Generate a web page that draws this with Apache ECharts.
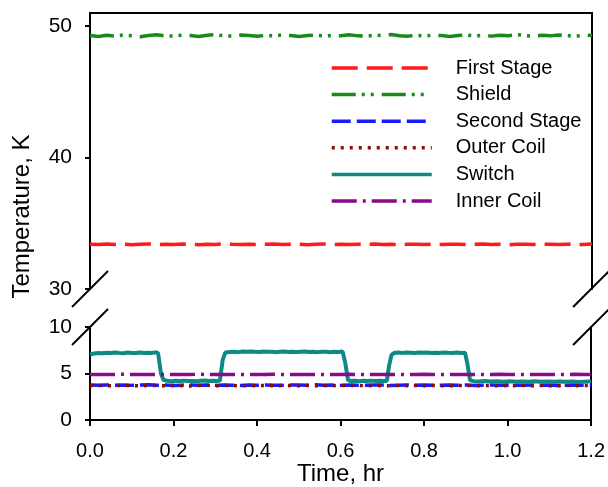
<!DOCTYPE html>
<html>
<head>
<meta charset="utf-8">
<script src="https://cdn.jsdelivr.net/npm/echarts@6/dist/echarts.min.js"></script>
<style>
  html, body { margin: 0; padding: 0; background: #fff; }
  #chart { width: 608px; height: 487px; }
</style>
</head>
<body>
<div id="chart"></div>
<script>
// Sample times (hr) shared by the steady channels
const time = [0.00,0.02,0.04,0.06,0.08,0.10,0.12,0.14,0.16,0.18,
              0.20,0.22,0.24,0.26,0.28,0.30,0.32,0.34,0.36,0.38,
              0.40,0.42,0.44,0.46,0.48,0.50,0.52,0.54,0.56,0.58,
              0.60,0.62,0.64,0.66,0.68,0.70,0.72,0.74,0.76,0.78,
              0.80,0.82,0.84,0.86,0.88,0.90,0.92,0.94,0.96,0.98,
              1.00,1.02,1.04,1.06,1.08,1.10,1.12,1.14,1.16,1.18,1.20];

// Temperatures, K
const firstStage = [33.40,33.38,33.42,33.39,33.41,33.37,33.40,33.43,33.39,33.40,
                    33.38,33.42,33.40,33.37,33.41,33.39,33.43,33.40,33.38,33.41,
                    33.39,33.40,33.42,33.38,33.40,33.41,33.37,33.40,33.42,33.39,
                    33.40,33.38,33.41,33.40,33.43,33.39,33.40,33.37,33.41,33.40,
                    33.38,33.42,33.39,33.40,33.41,33.38,33.40,33.42,33.39,33.40,
                    33.37,33.41,33.40,33.39,33.42,33.40,33.38,33.41,33.40,33.39,33.42];

const shield = [49.28,49.22,49.30,49.25,49.33,49.27,49.20,49.29,49.34,49.26,
                49.24,49.31,49.28,49.22,49.30,49.35,49.27,49.25,49.32,49.29,
                49.23,49.30,49.26,49.33,49.28,49.21,49.29,49.31,49.25,49.30,
                49.27,49.34,49.26,49.23,49.31,49.28,49.36,49.27,49.24,49.30,
                49.25,49.32,49.28,49.22,49.29,49.33,49.26,49.30,49.24,49.31,
                49.27,49.35,49.29,49.23,49.30,49.26,49.33,49.28,49.24,49.31,49.29];

const secondStage = [3.76,3.74,3.78,3.75,3.77,3.73,3.76,3.79,3.74,3.76,
                     3.72,3.75,3.78,3.74,3.76,3.73,3.77,3.75,3.71,3.76,
                     3.74,3.78,3.75,3.73,3.77,3.76,3.74,3.79,3.75,3.76,
                     3.73,3.77,3.75,3.74,3.78,3.76,3.72,3.75,3.77,3.74,
                     3.76,3.73,3.75,3.78,3.74,3.76,3.72,3.75,3.77,3.74,
                     3.76,3.73,3.75,3.77,3.74,3.76,3.72,3.75,3.77,3.74,3.75];

const outerCoil = [3.70,3.72,3.69,3.71,3.73,3.70,3.68,3.72,3.71,3.69,
                   3.72,3.70,3.67,3.71,3.73,3.69,3.70,3.72,3.68,3.71,
                   3.70,3.73,3.69,3.71,3.70,3.68,3.72,3.70,3.71,3.69,
                   3.72,3.70,3.73,3.69,3.71,3.70,3.68,3.72,3.70,3.71,
                   3.69,3.72,3.70,3.68,3.71,3.73,3.69,3.70,3.72,3.68,
                   3.71,3.70,3.72,3.69,3.71,3.70,3.68,3.72,3.70,3.71,3.70];

const innerCoil = [4.90,4.91,4.89,4.90,4.92,4.90,4.89,4.91,4.90,4.90,
                   4.91,4.89,4.90,4.92,4.90,4.89,4.91,4.90,4.90,4.91,
                   4.89,4.90,4.92,4.90,4.89,4.91,4.90,4.90,4.91,4.89,
                   4.90,4.92,4.90,4.89,4.91,4.90,4.90,4.91,4.89,4.90,
                   4.92,4.90,4.89,4.91,4.90,4.90,4.91,4.89,4.90,4.92,
                   4.90,4.89,4.91,4.90,4.90,4.91,4.89,4.90,4.92,4.90,4.90];

// Heat switch cycles on and off, so it has its own time base
const switchTime = [0.000,0.010,0.020,0.030,0.040,0.050,0.060,0.070,0.080,0.090,
                    0.100,0.110,0.120,0.130,0.140,0.150,0.158,0.163,0.170,0.176,
                    0.185,0.195,0.205,0.215,0.225,0.235,0.245,0.255,0.265,0.275,
                    0.285,0.295,0.305,0.311,0.318,0.324,
                    0.335,0.345,0.355,0.365,0.375,0.385,0.395,0.405,0.415,0.425,
                    0.435,0.445,0.455,0.465,0.475,0.485,0.495,0.505,0.515,0.525,
                    0.535,0.545,0.555,0.565,0.575,0.585,0.595,0.605,0.611,0.618,
                    0.625,0.635,0.645,0.655,0.665,0.675,0.685,0.695,0.705,0.711,
                    0.716,0.722,0.728,
                    0.738,0.748,0.758,0.768,0.778,0.788,0.798,0.808,0.818,0.828,
                    0.838,0.848,0.858,0.868,0.878,0.888,0.898,0.904,0.910,
                    0.918,0.930,0.945,0.960,0.975,0.990,1.005,1.020,1.035,1.050,
                    1.065,1.080,1.095,1.110,1.125,1.140,1.155,1.170,1.185,1.200];
const switchTemp = [7.05,7.15,7.20,7.18,7.24,7.20,7.26,7.22,7.19,7.25,
                    7.22,7.20,7.26,7.21,7.24,7.22,7.28,7.20,5.00,4.30,
                    4.22,4.18,4.22,4.20,4.24,4.19,4.21,4.17,4.22,4.25,
                    4.20,4.23,4.19,4.24,6.50,7.25,
                    7.32,7.35,7.30,7.36,7.33,7.38,7.34,7.31,7.36,7.33,
                    7.35,7.30,7.34,7.37,7.32,7.35,7.31,7.34,7.36,7.32,
                    7.34,7.30,7.35,7.33,7.28,7.34,7.31,7.36,6.20,4.30,
                    4.20,4.23,4.18,4.22,4.20,4.24,4.19,4.22,4.20,4.23,
                    5.80,7.00,7.20,
                    7.25,7.22,7.27,7.24,7.21,7.26,7.23,7.25,7.20,7.24,
                    7.22,7.26,7.23,7.21,7.25,7.22,7.24,6.00,4.30,
                    4.18,4.15,4.19,4.14,4.17,4.13,4.16,4.12,4.15,4.13,
                    4.17,4.12,4.14,4.11,4.15,4.12,4.14,4.10,4.13,4.16];

// Axis ticks
const upperTicks = [30, 40, 50];
const lowerTicks = [0, 5, 10];

const FONT = 'Liberation Sans, Arial, Helvetica, sans-serif';
const BLACK = '#000';

const pairs = (xs, ys) => xs.map((x, i) => [x, ys[i]]);

const chart = echarts.init(document.getElementById('chart'), null, { renderer: 'canvas' });

const frameLine = { show: true, onZero: false, lineStyle: { color: BLACK, width: 2 } };
const noAxisBits = { axisTick: { show: false }, axisLabel: { show: false }, splitLine: { show: false } };

function lineSeries(name, xIdx, yIdx, data, color, dash, width) {
  return {
    name, type: 'line', xAxisIndex: xIdx, yAxisIndex: yIdx,
    data, symbol: 'none', showSymbol: false, smooth: false,
    color,
    lineStyle: { color, width: width || 3.5, type: dash }
  };
}

chart.setOption({
  animation: false,
  backgroundColor: '#fff',
  textStyle: { fontFamily: FONT, color: BLACK },
  grid: [
    { left: 90, right: 16, top: 13, height: 276 },
    { left: 90, right: 16, top: 327, height: 96 }
  ],
  xAxis: [
    Object.assign({ gridIndex: 0, type: 'value', min: 0, max: 1.2, position: 'top', axisLine: frameLine }, noAxisBits),
    {
      gridIndex: 1, type: 'value', min: 0, max: 1.2, interval: 0.2, position: 'bottom',
      axisLine: frameLine,
      axisTick: { show: true, inside: false, length: 6, lineStyle: { color: BLACK, width: 2 } },
      axisLabel: { fontSize: 20, color: BLACK, fontFamily: FONT, margin: 21, formatter: v => v.toFixed(1) },
      splitLine: { show: false },
      name: 'Time, hr', nameLocation: 'middle', nameGap: 34,
      nameTextStyle: { fontSize: 24, color: BLACK, fontFamily: FONT }
    }
  ],
  yAxis: [
    {
      gridIndex: 0, type: 'value', min: 30, max: 51, position: 'left',
      axisLine: frameLine,
      axisTick: { show: true, inside: false, length: 5, customValues: upperTicks, lineStyle: { color: BLACK, width: 2 } },
      axisLabel: { fontSize: 21, color: BLACK, fontFamily: FONT, margin: 18, customValues: upperTicks },
      splitLine: { show: false }
    },
    Object.assign({ gridIndex: 0, type: 'value', min: 30, max: 51, position: 'right', axisLine: frameLine }, noAxisBits),
    {
      gridIndex: 1, type: 'value', min: 0, max: 10, interval: 5, position: 'left',
      axisLine: frameLine,
      axisTick: { show: true, inside: false, length: 5, customValues: lowerTicks, lineStyle: { color: BLACK, width: 2 } },
      axisLabel: { fontSize: 21, color: BLACK, fontFamily: FONT, margin: 18, customValues: lowerTicks },
      splitLine: { show: false }
    },
    Object.assign({ gridIndex: 1, type: 'value', min: 0, max: 10, position: 'right', axisLine: frameLine }, noAxisBits)
  ],
  legend: {
    orient: 'vertical', left: 330, top: 58, padding: 0,
    itemWidth: 100, itemHeight: 14, itemGap: 6.6,
    lineStyle: { width: 3.5 },
    itemStyle: { color: 'rgba(0,0,0,0)', borderColor: 'rgba(0,0,0,0)', borderWidth: 0 },
    textStyle: { fontSize: 20, color: BLACK, fontFamily: FONT, padding: [0, 0, 0, 19] },
    data: ['First Stage', 'Shield', 'Second Stage', 'Outer Coil', 'Switch', 'Inner Coil']
  },
  series: [
    lineSeries('First Stage', 0, 0, pairs(time, firstStage), '#ff1a1a', [26, 9]),
    lineSeries('Shield', 0, 0, pairs(time, shield), '#1a8a1a', [24, 6, 3, 6, 3, 8]),
    lineSeries('Second Stage', 1, 2, pairs(time, secondStage), '#1a1aff', [19, 6]),
    lineSeries('Outer Coil', 1, 2, pairs(time, outerCoil), '#8b0a0a', [3, 6]),
    lineSeries('Switch', 1, 2, pairs(switchTime, switchTemp), '#0d8a86', 'solid', 4),
    lineSeries('Inner Coil', 1, 2, pairs(time, innerCoil), '#8a0a8a', [25, 6, 3, 6])
  ]
});

// Axis-break slashes and the rotated y title, placed from the axes' own scales
const xLeft = chart.convertToPixel({ xAxisIndex: 1 }, 0);
const xRight = chart.convertToPixel({ xAxisIndex: 1 }, 1.2);
const yUpperBreak = chart.convertToPixel({ yAxisIndex: 0 }, 30);
const yLowerBreak = chart.convertToPixel({ yAxisIndex: 2 }, 10);
const yMid = (chart.convertToPixel({ yAxisIndex: 0 }, 51) + chart.convertToPixel({ yAxisIndex: 2 }, 0)) / 2;

const slash = (cx, cy) => ({
  type: 'line', silent: true, z: 100,
  shape: { x1: cx - 18, y1: cy + 18, x2: cx + 18, y2: cy - 18 },
  style: { stroke: BLACK, lineWidth: 2 }
});

chart.setOption({
  graphic: [
    slash(xLeft, yUpperBreak), slash(xLeft, yLowerBreak),
    slash(xRight, yUpperBreak), slash(xRight, yLowerBreak),
    {
      type: 'text', x: 22, y: yMid, rotation: Math.PI / 2, silent: true,
      style: { text: 'Temperature, K', font: '24px ' + FONT, fill: BLACK, align: 'center', verticalAlign: 'middle' }
    }
  ]
});
</script>
</body>
</html>
